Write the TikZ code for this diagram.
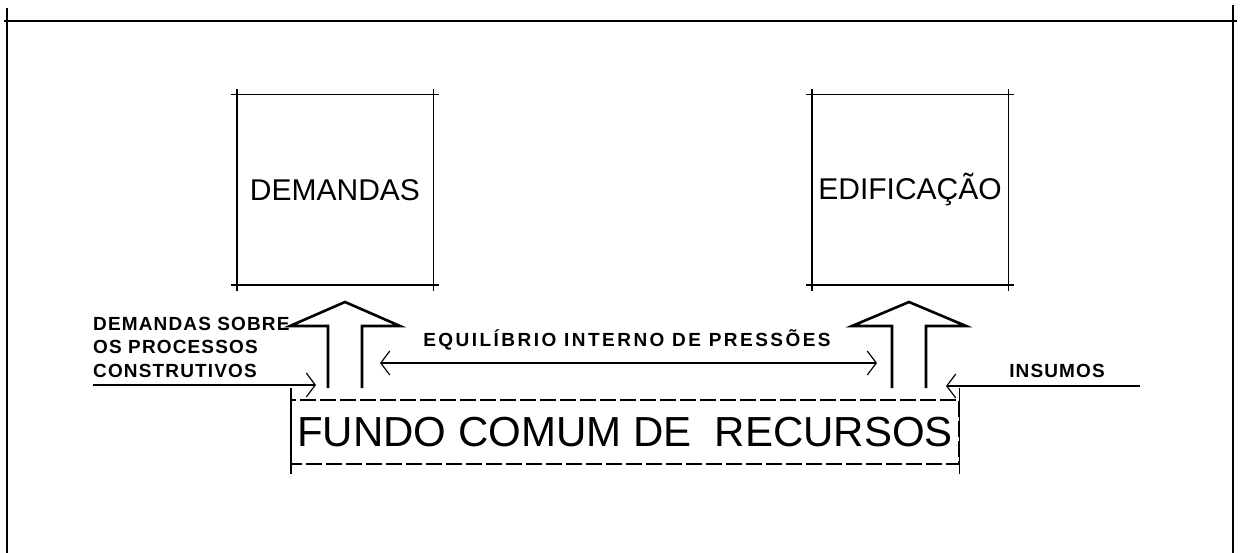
\documentclass[tikz,border=0pt]{standalone}
\usepackage{fontspec}
\setmainfont{Liberation Sans}
\newfontfamily\labelfont[LetterSpace=6]{Liberation Sans}
\newfontfamily\widefont[LetterSpace=13]{Liberation Sans}
\usetikzlibrary{arrows.meta, positioning}

% box with overshooting corner ticks
\newcommand{\crossbox}[2]{%
  \draw[boxline] ([xshift=-#2]#1.north west) -- ([xshift=#2]#1.north east);
  \draw[boxline] ([xshift=-#2]#1.south west) -- ([xshift=#2]#1.south east);
  \draw[boxline] ([yshift=#2]#1.north west) -- ([yshift=-#2]#1.south west);
  \draw[boxline] ([yshift=#2]#1.north east) -- ([yshift=-#2]#1.south east);
}

\begin{document}
\begin{tikzpicture}[x=1pt, y=-1pt,
    boxline/.style = {line width=1.4pt},
    frameline/.style = {line width=1.8pt},
    sqbox/.style = {minimum width=196pt, minimum height=190pt, inner sep=0pt,
                    font=\fontsize{30}{36}\selectfont},
    fundbox/.style = {minimum width=668pt, minimum height=64pt, inner sep=0pt,
                      font=\fontsize{42}{48}\selectfont},
    bigarrow/.style = {line width=2.6pt, line join=miter},
    thinarrow/.style = {line width=1.2pt, -{Straight Barb[length=9pt, width=24pt]}},
    lbl/.style = {inner sep=0pt, font=\labelfont\bfseries\fontsize{19}{23.5}\selectfont}
  ]
    \useasboundingbox (0,0) rectangle (1240,553);

    % moldura
    \draw[frameline] (4,21) -- (1237,21);
    \draw[frameline] (7,8) -- (7,553);
    \draw[frameline] (1233,5) -- (1233,553);

    % caixas superiores
    \node[sqbox] (dem) at (335,190) {DEMANDAS};
    \crossbox{dem}{6pt}
    \node[sqbox] (edif) at (910,190) {EDIFICAÇÃO};
    \crossbox{edif}{6pt}

    % fundo comum
    \node[fundbox] (fundo) at (625,432) {FUNDO COMUM DE\ \ RECURSOS};
    \draw[line width=2.4pt, dash pattern=on 16pt off 4pt] (fundo.north west) rectangle (fundo.south east);
    \draw[boxline] ([yshift=12pt]fundo.north west) -- ([yshift=-10pt]fundo.south west);
    \draw[boxline] ([yshift=12pt]fundo.north east) -- ([yshift=-10pt]fundo.south east);

    % setas largas
    \coordinate (la) at (345,388);
    \coordinate (ra) at (909,388);
    \draw[bigarrow] (la) ++(-17,0) -- ++(0,-62) -- ++(-38,0) -- ++(55,-24)
                    -- ++(55,24) -- ++(-38,0) -- ++(0,62);
    \draw[bigarrow] (ra) ++(-17,0) -- ++(0,-62) -- ++(-40,0) -- ++(57,-24)
                    -- ++(57,24) -- ++(-40,0) -- ++(0,62);

    % entradas
    \node[lbl, anchor=north west, align=left] (proc) at (93,317)
        {DEMANDAS SOBRE\\OS PROCESSOS\\CONSTRUTIVOS};
    \coordinate (pin) at (93,385);
    \coordinate (pout) at (316,385);
    \draw[thinarrow] (pin) -- (pout);

    \node[lbl, font=\widefont\bfseries\fontsize{19}{23}\selectfont] (equi) at (627,340)
        {EQUILÍBRIO INTERNO DE PRESSÕES};
    \coordinate (eqa) at (380,363);
    \coordinate (eqb) at (877,363);
    \draw[thinarrow, {Straight Barb[length=9pt, width=24pt]}-{Straight Barb[length=9pt, width=24pt]}] (eqa) -- (eqb);

    \node[lbl] (ins) at (1057,371) {INSUMOS};
    \coordinate (iin) at (1140,386);
    \coordinate (iout) at (946,386);
    \draw[thinarrow] (iin) -- (iout);
\end{tikzpicture}
\end{document}
